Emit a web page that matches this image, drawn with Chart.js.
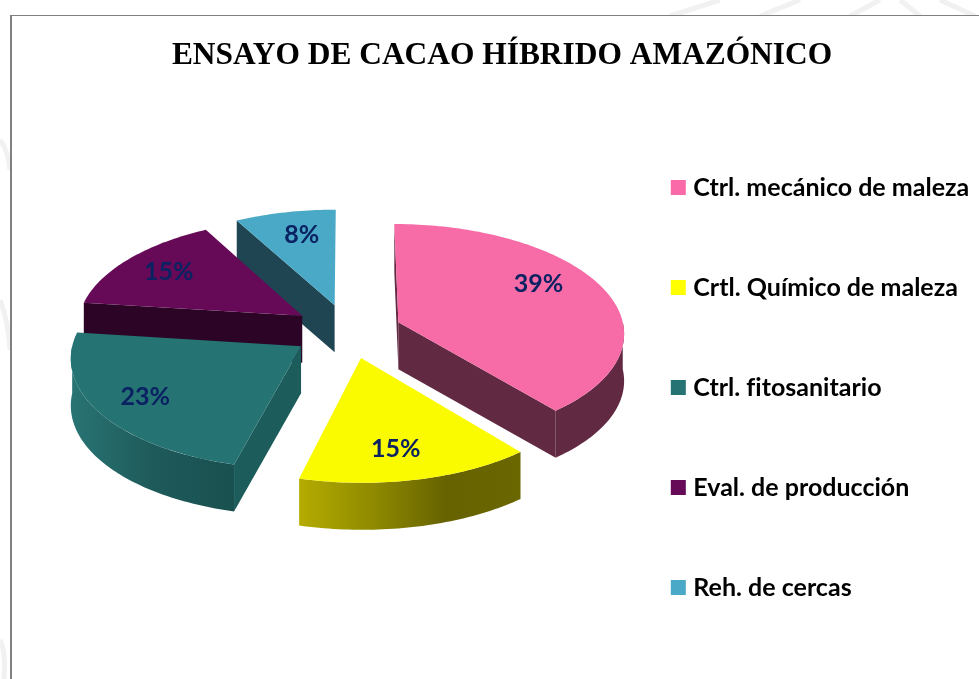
<!DOCTYPE html>
<html>
<head>
<meta charset="utf-8">
<script src="https://cdn.jsdelivr.net/npm/chart.js@4"></script>
<style>
    body { margin: 0; background: #fff; overflow: hidden; }
    #wrap { position: relative; width: 979px; height: 679px; }
    #marks { position: absolute; left: 0; top: 0; }
    #panel { position: absolute; left: 10px; top: 15px; right: 0; bottom: 0; background: #fff; border-left: 2px solid #808080; border-top: 1px solid #808080; }
    canvas { position: absolute; left: 0; top: 0; }
</style>
</head>
<body>
<div id="wrap">
    <svg id="marks" width="979" height="679" fill="none" stroke="#f1f1f1" stroke-width="5">
        <path d="M670 16 L720 0 M760 16 L800 0 M850 16 L880 0 M920 16 L900 0 M975 16 L940 0" />
        <path d="M0 140 Q8 150 10 170 M0 300 Q8 320 10 350 M0 640 Q6 650 4 679" />
    </svg>
    <div id="panel"></div>
    <canvas id="pie" width="979" height="679"></canvas>
</div>
<script>
const categories = ['Ctrl. mecánico de maleza', 'Crtl. Químico de maleza', 'Ctrl. fitosanitario', 'Eval. de producción', 'Reh. de cercas'];
const shares = [39, 15, 23, 15, 8];
const explode = [214, 226, 226, 226, 226];
const topColors = ['#f76ba6', '#fbfb00', '#257373', '#660a57', '#4aa9c6'];
const legendColors = ['#fb6aa8', '#ffff00', '#257373', '#660a57', '#4aa9c6'];
const cutColors = ['#612a42', '#666200', '#1c5c5b', '#2b0426', '#1f4552'];
const rimStops = [
    ['#612a42', '#612a42'],
    ['#b4ac00', '#8f8a00', '#666200', '#6a6600'],
    ['#297474', '#1f5a5a', '#195050'],
    ['#2b0426', '#2b0426'],
    ['#1f4552', '#1f4552']
];
const labelRadius = [0.75, 0.76, 0.78, 0.76, 0.74];
const labelTurn = [-0.17, 0.04, 0, 0, 0.03];
const drawOrder = [4, 3, 0, 2, 1]; // back to front

// fake 3D view, Chart.js pie has none
const tilt = 0.48;
const wallDepth = 0.208;
const perspective = 0.09;
const shiftX = 35.5;
const shiftY = -56.5;

function project(arc, angle, frac, drop) {
    const mid = (arc.startAngle + arc.endAngle) / 2;
    const pull = arc.options.offset / 4 / arc.outerRadius;
    const u = pull * Math.cos(mid) + frac * Math.cos(angle);
    const v = pull * Math.sin(mid) + frac * Math.sin(angle);
    const w = 1 - perspective * v;
    return {
        x: arc.x + shiftX + arc.outerRadius * u / w,
        y: arc.y + shiftY + arc.outerRadius * (tilt * v / w + wallDepth * drop)
    };
}

function tracePoints(ctx, points, color) {
    ctx.beginPath();
    points.forEach((p, i) => i ? ctx.lineTo(p.x, p.y) : ctx.moveTo(p.x, p.y));
    ctx.closePath();
    ctx.fillStyle = color;
    ctx.fill();
}

function rimAngles(from, to) {
    const list = [];
    const steps = Math.max(2, Math.ceil((to - from) / 0.02));
    for (let i = 0; i <= steps; i++) list.push(from + (to - from) * i / steps);
    return list;
}

function drawCutFace(ctx, arc, angle, color) {
    tracePoints(ctx, [
        project(arc, angle, 0, 0),
        project(arc, angle, 1, 0),
        project(arc, angle, 1, 1),
        project(arc, angle, 0, 1)
    ], color);
}

function drawRimWall(ctx, arc, stops) {
    // only the part of the rim that faces the viewer
    const from = Math.max(arc.startAngle, 0);
    const to = Math.min(arc.endAngle, Math.PI);
    if (to <= from) return;
    const angles = rimAngles(from, to);
    const upper = angles.map(a => project(arc, a, 1, 0));
    const lower = angles.map(a => project(arc, a, 1, 1)).reverse();
    const xs = upper.map(p => p.x);
    const grad = ctx.createLinearGradient(Math.min(...xs), 0, Math.max(...xs), 0);
    stops.forEach((c, i) => grad.addColorStop(i / (stops.length - 1), c));
    tracePoints(ctx, upper.concat(lower), grad);
}

const pie3d = {
    id: 'pie3d',
    afterLayout(chart) {
        // legend rows sit lower than the middle of the canvas
        chart.legend.top += 96;
    },
    beforeDraw(chart) {
        chart.ctx.letterSpacing = '0.01px'; // no fi ligature
    },
    beforeDatasetsDraw(chart) {
        const ctx = chart.ctx;
        const arcs = chart.getDatasetMeta(0).data;
        drawOrder.forEach(i => {
            const arc = arcs[i];
            const apex = project(arc, arc.startAngle, 0, 0);
            if (project(arc, arc.startAngle, 1, 0).x < apex.x) drawCutFace(ctx, arc, arc.startAngle, cutColors[i]);
            if (project(arc, arc.endAngle, 1, 0).x > apex.x + 2) drawCutFace(ctx, arc, arc.endAngle, cutColors[i]);
            drawRimWall(ctx, arc, rimStops[i]);
            const rim = rimAngles(arc.startAngle, arc.endAngle).map(a => project(arc, a, 1, 0));
            tracePoints(ctx, [apex].concat(rim), topColors[i]);
        });
        ctx.save();
        ctx.font = 'bold 25px Lato, Carlito, sans-serif';
        ctx.fillStyle = '#0a2262';
        ctx.textAlign = 'center';
        ctx.textBaseline = 'middle';
        arcs.forEach((arc, i) => {
            const mid = (arc.startAngle + arc.endAngle) / 2 + labelTurn[i];
            const p = project(arc, mid, labelRadius[i], 0);
            ctx.fillText(shares[i] + '%', p.x, p.y);
        });
        ctx.restore();
        return false;
    }
};

new Chart(document.getElementById('pie'), {
    type: 'pie',
    data: {
        labels: categories,
        datasets: [{
            data: shares,
            backgroundColor: legendColors,
            borderColor: legendColors,
            borderWidth: 10, // legend swatch size, arcs are drawn by pie3d
            offset: explode
        }]
    },
    options: {
        responsive: false,
        animation: false,
        radius: 226,
        layout: { padding: { left: 25, top: 0, right: 0, bottom: 0 } },
        plugins: {
            tooltip: { enabled: false },
            title: {
                display: true,
                text: 'ENSAYO DE CACAO HÍBRIDO AMAZÓNICO',
                color: '#000',
                font: { family: '"Liberation Serif", serif', size: 31.4, weight: 'bold', lineHeight: 1.2 },
                padding: { top: 37, bottom: 21 }
            },
            legend: {
                position: 'right',
                labels: {
                    boxWidth: 5,
                    boxHeight: 5,
                    padding: 75,
                    color: '#000',
                    font: { family: 'Lato, sans-serif', size: 25, weight: 'bold' }
                },
                onClick: null
            }
        }
    },
    plugins: [pie3d]
});
</script>
</body>
</html>
